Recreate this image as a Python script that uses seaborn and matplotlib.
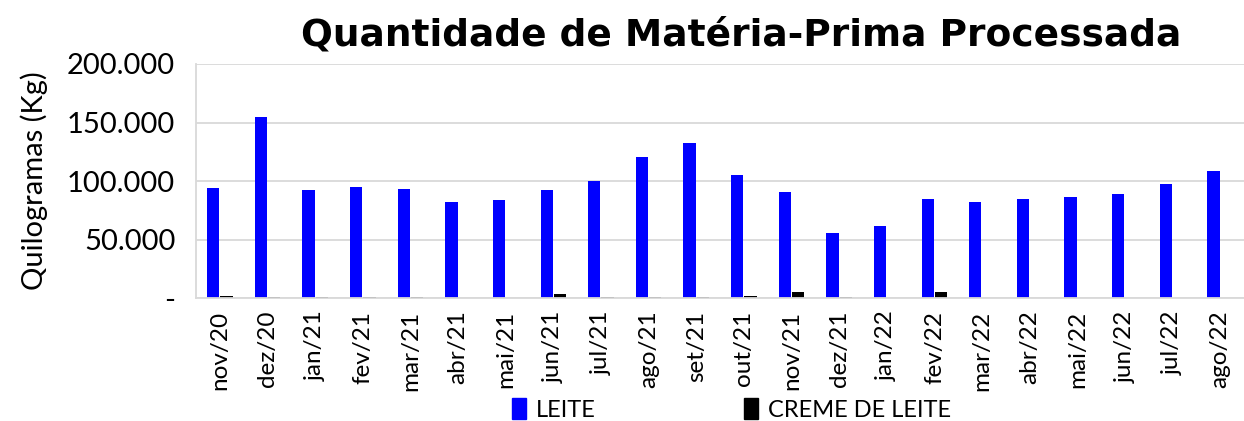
import pandas as pd
import matplotlib
matplotlib.use("Agg")
import matplotlib.pyplot as plt
from matplotlib.ticker import FuncFormatter, FixedLocator
from matplotlib.patches import Patch
import seaborn as sns

# ==========================================
# DATA
# ==========================================

meses = ['nov/20', 'dez/20', 'jan/21', 'fev/21', 'mar/21', 'abr/21',
         'mai/21', 'jun/21', 'jul/21', 'ago/21', 'set/21', 'out/21',
         'nov/21', 'dez/21', 'jan/22', 'fev/22', 'mar/22', 'abr/22',
         'mai/22', 'jun/22', 'jul/22', 'ago/22']

leite = [94300, 154300, 92600, 94900, 93400, 82300,
         83800, 92300, 100000, 120200, 132700, 105100,
         90600, 55300, 61800, 84900, 82300, 84900,
         86600, 88600, 97400, 108800]

creme = [2000, 1200, 1000, 500, 500, 300,
         0, 3400, 1200, 1200, 1000, 2000,
         4800, 700, 0, 5400, 300, 300,
         0, 200, 200, 300]

df = pd.concat([
    pd.DataFrame({'Mes': meses, 'Kg': leite, 'Produto': 'LEITE'}),
    pd.DataFrame({'Mes': meses, 'Kg': creme, 'Produto': 'CREME DE LEITE'}),
])

cores = {'LEITE': '#0000FF', 'CREME DE LEITE': '#000000'}

# ==========================================
# PLOT
# ==========================================

sns.set_style("white")
plt.rcParams['font.family'] = ['Lato', 'DejaVu Sans']
plt.rcParams['text.color'] = 'black'
plt.rcParams['axes.labelcolor'] = 'black'
plt.rcParams['xtick.color'] = 'black'
plt.rcParams['ytick.color'] = 'black'

fig = plt.figure(figsize=(12.44, 4.21), dpi=100)
ax = fig.add_axes([0.1576, 0.292, 0.8424, 0.556])

sns.barplot(
    data=df,
    x='Mes',
    y='Kg',
    hue='Produto',
    order=meses,
    palette=cores,
    saturation=1,
    width=0.56,
    gap=0.08,
    linewidth=0,
    ax=ax,
    legend=False
)

ax.set_ylim(0, 200000)
ax.set_xlim(-0.5, len(meses) - 0.5)
ax.yaxis.set_major_locator(FixedLocator([0, 50000, 100000, 150000, 200000]))
ax.yaxis.set_major_formatter(FuncFormatter(
    lambda v, p: '-' if v == 0 else f"{int(v):,}".replace(',', '.')))

ax.grid(axis='y', color='#d9d9d9', linewidth=1.3)
ax.set_axisbelow(True)

for s in ['top', 'right']:
    ax.spines[s].set_visible(False)
for s in ['left', 'bottom']:
    ax.spines[s].set_color('#d9d9d9')
    ax.spines[s].set_linewidth(1.3)

ax.tick_params(axis='y', length=9, color='#d9d9d9', labelcolor='black',
               width=1.3, labelsize=21, pad=6)
ax.set_xticks(range(len(meses)))
ax.set_xticklabels(meses, rotation=90, fontsize=17.5)
ax.tick_params(axis='x', which='major', length=0, pad=9)
ax.set_xticks([i - 0.5 for i in range(len(meses) + 1)], minor=True)
ax.tick_params(axis='x', which='minor', length=10, color='#d9d9d9', width=1.3)

ax.set_xlabel("")
ax.set_ylabel("Quilogramas (Kg)", fontsize=21, labelpad=14)

fig.text(0.596, 0.915, "Quantidade de Matéria-Prima Processada",
         ha='center', va='center', fontsize=27, fontweight='bold',
         family='DejaVu Sans')

handles = [Patch(color=cores['LEITE'], label='LEITE'),
           Patch(color=cores['CREME DE LEITE'], label='CREME DE LEITE')]
fig.legend(handles=handles, loc='center', bbox_to_anchor=(0.588, 0.027),
           ncol=2, frameon=False, fontsize=17, handlelength=0.6,
           handleheight=1.0, handletextpad=0.4, columnspacing=6.3,
           borderpad=0)

plt.savefig("out.png", dpi=100)
